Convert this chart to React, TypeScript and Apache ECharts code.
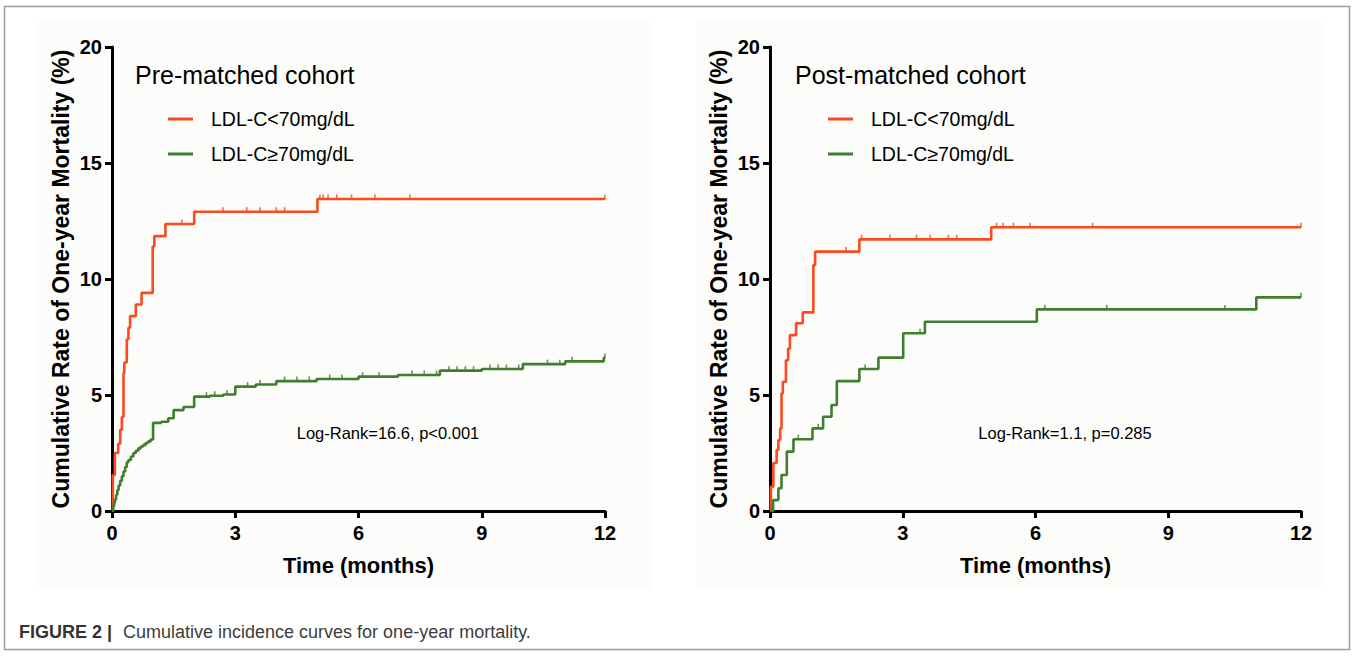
import React, { useEffect, useRef } from "react";
import * as echarts from "echarts";

// ---------- data ----------
const xTicks = [0, 3, 6, 9, 12];
const yTicks = [0, 5, 10, 15, 20];
const seriesNames = ["LDL-C<70mg/dL", "LDL-C≥70mg/dL"];

// Pre-matched cohort
const preLowT = [0, 0.02, 0.07, 0.15, 0.2, 0.24, 0.28, 0.3, 0.36, 0.4, 0.44, 0.58, 0.72, 0.99, 1.03, 1.3, 2.0, 5.0, 12];
const preLowV = [0, 1.55, 2.5, 2.9, 3.5, 4.05, 5.95, 6.4, 7.4, 7.9, 8.4, 8.9, 9.4, 11.4, 11.85, 12.37, 12.9, 13.45, 13.45];
const preHighT = [0, 0.03, 0.05, 0.07, 0.1, 0.13, 0.16, 0.2, 0.24, 0.28, 0.32, 0.36, 0.4, 0.46, 0.52, 0.58, 0.64, 0.7, 0.76, 0.82, 0.88, 0.94, 1.0, 1.2, 1.37, 1.5, 1.74, 2.0, 2.38, 2.71, 3.0, 3.5, 4.0, 4.98, 6.0, 6.96, 7.98, 9.0, 10.0, 11.03, 11.97, 12];
const preHighV = [0, 0.2, 0.35, 0.5, 0.7, 0.9, 1.1, 1.3, 1.5, 1.7, 1.9, 2.1, 2.2, 2.35, 2.5, 2.6, 2.7, 2.78, 2.85, 2.93, 3.0, 3.08, 3.8, 3.85, 4.0, 4.35, 4.48, 4.93, 4.97, 5.02, 5.36, 5.45, 5.6, 5.69, 5.79, 5.86, 6.05, 6.12, 6.33, 6.45, 6.6, 6.6];
const preLowCensorT = [1.7, 2.7, 3.28, 3.6, 4.0, 4.2, 5.06, 5.14, 5.26, 5.47, 5.83, 6.4, 7.25, 12];
const preHighCensorT = [2.3, 2.5, 2.8, 3.3, 3.6, 4.2, 4.5, 4.8, 5.3, 5.6, 6.1, 6.5, 7.3, 7.6, 7.9, 8.2, 8.4, 8.6, 8.8, 9.2, 9.4, 9.6, 9.9, 10.6, 10.9, 11.2, 12];

// Post-matched cohort
const postLowT = [0, 0.02, 0.075, 0.15, 0.19, 0.23, 0.26, 0.29, 0.36, 0.41, 0.45, 0.59, 0.74, 0.98, 1.02, 2.02, 5.0, 12];
const postLowV = [0, 1.05, 2.07, 2.63, 3.06, 3.56, 5.07, 5.57, 6.5, 7.0, 7.58, 8.09, 8.56, 10.6, 11.18, 11.71, 12.23, 12.23];
const postHighT = [0, 0.07, 0.19, 0.26, 0.38, 0.53, 0.96, 1.2, 1.39, 1.51, 2.02, 2.45, 3.01, 3.5, 6.03, 10.99, 12];
const postHighV = [0, 0.47, 0.98, 1.55, 2.56, 3.09, 3.56, 4.06, 4.57, 5.6, 6.12, 6.61, 7.66, 8.16, 8.69, 9.21, 9.21];
const postLowCensorT = [1.72, 2.07, 2.71, 3.31, 3.62, 4.03, 4.22, 5.12, 5.27, 5.5, 5.88, 7.29, 12];
const postHighCensorT = [0.64, 1.09, 2.15, 3.39, 6.21, 7.61, 10.28, 12];

const panelTitles = ["Pre-matched cohort", "Post-matched cohort"];
const logRankTexts = ["Log-Rank=16.6, p<0.001", "Log-Rank=1.1, p=0.285"];
const captionBold = "FIGURE 2 |";
const captionText = "Cumulative incidence curves for one-year mortality.";

// ---------- styling ----------
const RED = "#fa4a1e";
const GREEN = "#3e7e2e";
const FONT = "'Liberation Sans', Arial, Helvetica, sans-serif";

const pairs = (t: number[], v: number[]) => t.map((x, i) => [x, v[i]]);
const stepValue = (t: number[], v: number[], x: number) => {
  let val = v[0];
  for (let i = 0; i < t.length; i++) if (t[i] <= x) val = v[i];
  return val;
};
const censor = (ct: number[], t: number[], v: number[]) => ct.map((x) => [x, stepValue(t, v, x)]);

export default function App() {
  const ref = useRef<HTMLDivElement>(null);
  useEffect(() => {
    if (!ref.current) return;
    const chart = echarts.init(ref.current, null, { renderer: "svg" });

    const grids = [
      { left: 112, top: 47, width: 493, height: 464 },
      { left: 770, top: 47, width: 531, height: 464 },
    ];

    const xAxis = [0, 1].map((i) => ({
      gridIndex: i,
      type: "value",
      min: xTicks[0],
      max: xTicks[xTicks.length - 1],
      interval: 3,
      axisLine: { show: true, lineStyle: { color: "#000", width: 3 } },
      axisTick: { show: true, length: 7, lineStyle: { color: "#000", width: 3 } },
      axisLabel: { margin: 12, fontSize: 20, fontWeight: "bold", color: "#000", fontFamily: FONT },
      splitLine: { show: false },
      name: "Time (months)",
      nameLocation: "middle",
      nameGap: 43,
      nameTextStyle: { fontSize: 22, fontWeight: "bold", color: "#000", fontFamily: FONT },
    }));

    const yAxis = [0, 1].map((i) => ({
      gridIndex: i,
      type: "value",
      min: yTicks[0],
      max: yTicks[yTicks.length - 1],
      interval: 5,
      axisLine: { show: true, lineStyle: { color: "#000", width: 3 } },
      axisTick: { show: true, length: 7, lineStyle: { color: "#000", width: 3 } },
      axisLabel: { margin: 10, fontSize: 20, fontWeight: "bold", color: "#000", fontFamily: FONT },
      splitLine: { show: false },
      name: "Cumulative Rate of One-year Mortality (%)",
      nameLocation: "middle",
      nameGap: 40,
      nameTextStyle: { fontSize: 23, fontWeight: "bold", color: "#000", fontFamily: FONT },
    }));

    const lineSeries = (name: string, idx: number, data: number[][], color: string) => ({
      name,
      type: "line",
      step: "end",
      xAxisIndex: idx,
      yAxisIndex: idx,
      data,
      symbol: "none",
      lineStyle: { color, width: 2.6 },
      itemStyle: { color },
      z: 3,
    });
    const censorSeries = (name: string, idx: number, data: number[][], color: string) => ({
      name,
      type: "scatter",
      xAxisIndex: idx,
      yAxisIndex: idx,
      data,
      symbol: "rect",
      symbolSize: [1.6, 5],
      symbolOffset: [0, -2],
      itemStyle: { color },
      z: 3,
    });

    const legendBase = {
      data: seriesNames,
      orient: "vertical",
      top: 103,
      icon: "rect",
      itemWidth: 25,
      itemHeight: 3,
      itemGap: 13,
      selectedMode: false,
      textStyle: { fontSize: 19.5, lineHeight: 22, color: "#000", fontFamily: FONT, padding: [0, 0, 0, 13] },
    };

    const text = (x: number, y: number, str: string, size: number, extra: any = {}) => ({
      type: "text",
      x,
      y,
      silent: true,
      style: { text: str, font: `${extra.weight || "normal"} ${size}px ${FONT}`, fill: extra.fill || "#000", verticalAlign: "middle", align: extra.align || "left" },
      z: 10,
    });

    const option = {
      animation: false,
      backgroundColor: "#ffffff",
      grid: grids,
      xAxis,
      yAxis,
      legend: [
        { ...legendBase, left: 163 },
        { ...legendBase, left: 823 },
      ],
      series: [
        lineSeries(seriesNames[0], 0, pairs(preLowT, preLowV), RED),
        lineSeries(seriesNames[1], 0, pairs(preHighT, preHighV), GREEN),
        lineSeries(seriesNames[0], 1, pairs(postLowT, postLowV), RED),
        lineSeries(seriesNames[1], 1, pairs(postHighT, postHighV), GREEN),
        censorSeries("censor-pre-low", 0, censor(preLowCensorT, preLowT, preLowV), RED),
        censorSeries("censor-pre-high", 0, censor(preHighCensorT, preHighT, preHighV), GREEN),
        censorSeries("censor-post-low", 1, censor(postLowCensorT, postLowT, postLowV), RED),
        censorSeries("censor-post-high", 1, censor(postHighCensorT, postHighT, postHighV), GREEN),
      ],
      graphic: [
        { type: "rect", silent: true, z: -10, shape: { x: 38, y: 20, width: 614, height: 570 }, style: { fill: "#fcfcfa" } },
        { type: "rect", silent: true, z: -10, shape: { x: 696, y: 20, width: 626, height: 570 }, style: { fill: "#fcfcfa" } },
        { type: "rect", silent: true, z: -5, shape: { x: 4.5, y: 6.5, width: 1345, height: 643 }, style: { fill: "none", stroke: "#9a9a9a", lineWidth: 1.5 } },
        text(135, 75, panelTitles[0], 25),
        text(795, 75, panelTitles[1], 25),
        text(388, 433, logRankTexts[0], 16.5, { align: "center" }),
        text(1065, 433, logRankTexts[1], 16.5, { align: "center" }),
        text(19, 632, captionBold, 18, { weight: "bold", fill: "#333" }),
        text(123, 632, captionText, 18, { fill: "#3c3c3c" }),
      ],
    };

    chart.setOption(option as any);
    return () => chart.dispose();
  }, []);

  return <div ref={ref} style={{ position: "fixed", left: 0, top: 0, width: 1354, height: 656 }} />;
}
